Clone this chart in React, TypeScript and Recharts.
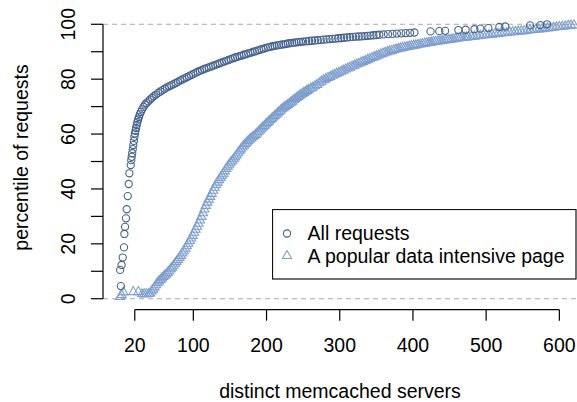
import { ScatterChart, Scatter, XAxis, YAxis, ReferenceLine, Legend, Label } from 'recharts';

// "All requests": percentile vs distinct servers
const allX = [
  0, 1, 2, 3.5, 5.3, 5.8, 6.7, 8, 9, 10.4, 11.7, 12.6, 14.5, 15.2, 15.8, 16.5, 17.2, 18, 18.8, 19.5,
  20.2, 21, 21.8, 22.7, 23.6, 24.6, 25.7, 27, 28.5, 30, 32, 34, 36, 38.5, 41, 43.5, 46, 49, 52, 55,
  58, 61, 64, 67, 70, 73, 76, 79, 82, 85, 88, 91, 94, 97, 100, 103, 106, 109, 112, 115,
  118, 121, 124, 127, 130, 133, 136, 139, 142, 145, 148, 151, 154, 157, 160, 163, 166, 169, 172, 175,
  178, 181, 184, 187, 190, 193, 196, 199, 202, 205, 208, 211, 214, 217, 220, 223, 226, 229, 232, 235,
  238, 241, 244, 247, 250, 254, 258, 262, 266, 270, 274, 278, 282, 286, 290, 294, 298, 302, 306, 310,
  314, 318, 322, 326, 330, 334, 338, 342, 346, 350, 354, 360, 366, 372, 378, 384, 390, 396, 402, 424,
  436, 444, 462, 472, 484, 492, 503, 518, 526, 560, 574, 583,
];
const allY = [
  10.5, 4.6, 12.3, 15, 18.7, 23.6, 26.2, 29.3, 32.6, 37.4, 41.8, 45.7, 48.7, 50.5, 51.7, 53, 54.5, 56, 57.5, 59,
  60.2, 61.2, 62.2, 63.3, 64.3, 65.3, 66.2, 67.2, 68.1, 69, 69.9, 70.7, 71.3, 71.9, 72.6, 73.2, 73.8, 74.4, 75, 75.5,
  76, 76.5, 77, 77.4, 77.8, 78.2, 78.6, 79, 79.5, 79.9, 80.3, 80.7, 81.1, 81.5, 81.9, 82.3, 82.7, 83, 83.4, 83.7,
  84, 84.3, 84.6, 84.9, 85.2, 85.5, 85.8, 86.1, 86.4, 86.7, 87, 87.3, 87.6, 87.9, 88.1, 88.4, 88.6, 88.9, 89.1, 89.4,
  89.6, 89.9, 90.1, 90.4, 90.6, 90.9, 91.1, 91.4, 91.6, 91.8, 92, 92.1, 92.3, 92.4, 92.6, 92.7, 92.8, 93, 93.1, 93.2,
  93.3, 93.4, 93.5, 93.6, 93.7, 93.8, 93.9, 94, 94.1, 94.2, 94.3, 94.4, 94.5, 94.6, 94.7, 94.8, 94.9, 95, 95.1, 95.2,
  95.3, 95.4, 95.5, 95.55, 95.6, 95.7, 95.8, 95.9, 96, 96.1, 96.2, 96.3, 96.4, 96.5, 96.6, 96.7, 96.8, 96.9, 97, 97.4,
  97.5, 97.6, 97.9, 98, 98.2, 98.4, 98.6, 99, 99.2, 99.6, 99.7, 100,
];

// "A popular data intensive page":
const pageX = [
  0, 2, 4.4, 18, 25, 30, 33, 36, 39, 41, 43, 45, 47, 49, 51, 53, 55, 57, 59, 61,
  63, 65, 67, 69, 71, 73, 75, 77, 79, 81, 83, 85, 87, 89, 91, 93, 95, 97, 99, 101,
  103, 105, 107, 109, 111, 113, 115, 117, 119, 121, 123, 125, 127, 129, 131, 133, 135, 137, 139, 141,
  143, 145, 147, 149, 151, 153, 155, 157, 159, 161, 163, 165, 167, 169, 171, 173, 175, 177, 179, 181,
  183, 185, 187, 189, 191, 193, 195, 197, 199, 201, 203, 205, 207, 209, 211, 213, 215, 217, 219, 221,
  223, 225, 227, 229, 231, 233, 235, 237, 239, 241, 243, 245, 247, 249, 251, 253, 255, 257, 260, 263,
  266, 269, 272, 275, 278, 281, 284, 287, 290, 293, 296, 299, 302, 305, 308, 311, 314, 317, 320, 323,
  326, 329, 332, 335, 338, 341, 344, 347, 350, 353, 356, 359, 362, 365, 368, 371, 374, 377, 380, 383,
  386, 389, 392, 395, 398, 401, 404, 407, 410, 413, 416, 419, 422, 425, 428, 431, 434, 437, 440, 443,
  446, 449, 452, 455, 458, 461, 464, 467, 470, 473, 476, 480, 484, 488, 492, 496, 500, 504, 508, 512,
  516, 520, 524, 528, 532, 536, 540, 544, 548, 552, 556, 560, 564, 568, 572, 576, 580, 584, 588, 592,
  596, 600, 604, 608, 612, 616, 620,
];
const pageY = [
  0.8, 1.5, 2.5, 2.6, 2.6, 1.8, 1.8, 1.8, 1.9, 2.1, 2.8, 3.5, 4.3, 5.1, 5.9, 6.5, 7, 7.6, 8.1, 8.6,
  9, 9.6, 10.2, 10.9, 11.5, 12.2, 12.9, 13.6, 14.3, 15, 15.8, 16.7, 17.5, 18.4, 19.3, 20.2, 21.2, 22.1, 23.1, 24.2,
  25.3, 26.4, 27.5, 28.7, 30, 31.3, 32.7, 34, 35.2, 36.3, 37.3, 38.4, 39.5, 40.6, 41.6, 42.5, 43.4, 44.2, 45, 45.7,
  46.6, 47.5, 48.3, 49, 49.7, 50.3, 51, 51.7, 52.4, 53.2, 53.9, 54.6, 55.3, 55.9, 56.5, 57, 57.6, 58.1, 58.6, 59,
  59.4, 59.9, 60.4, 61, 61.5, 62.1, 62.6, 63.1, 63.7, 64.2, 64.7, 65.2, 65.7, 66.2, 66.7, 67.2, 67.7, 68.2, 68.7, 69.2,
  69.6, 70, 70.4, 70.8, 71.2, 71.6, 72, 72.5, 72.9, 73.3, 73.7, 74.1, 74.5, 74.8, 75.2, 75.5, 75.9, 76.2, 76.7, 77.1,
  77.6, 78.1, 78.7, 79.3, 79.8, 80.2, 80.6, 81, 81.4, 81.8, 82.2, 82.5, 82.9, 83.3, 83.7, 84.1, 84.4, 84.8, 85.1, 85.5,
  85.8, 86.2, 86.5, 86.8, 87.2, 87.5, 87.9, 88.2, 88.5, 88.8, 89.2, 89.5, 89.8, 90, 90.3, 90.5, 90.8, 91, 91.2, 91.4,
  91.6, 91.7, 91.9, 92.1, 92.2, 92.4, 92.5, 92.7, 92.8, 93, 93.1, 93.3, 93.4, 93.5, 93.7, 93.8, 93.9, 94, 94.1, 94.3,
  94.4, 94.5, 94.6, 94.7, 94.8, 95, 95.1, 95.2, 95.3, 95.4, 95.5, 95.6, 95.7, 95.8, 96, 96.1, 96.2, 96.3, 96.4, 96.6,
  96.7, 96.8, 96.9, 97, 97.2, 97.3, 97.4, 97.5, 97.6, 97.7, 97.8, 98, 98.1, 98.2, 98.3, 98.4, 98.6, 98.7, 98.8, 98.9,
  99.1, 99.2, 99.3, 99.4, 99.6, 99.7, 99.8,
];

const xTicks = [20, 100, 200, 300, 400, 500, 600];
const yTicks = [0, 10, 20, 30, 40, 50, 60, 70, 80, 90, 100];
const seriesNames = ['All requests', 'A popular data intensive page'];

const FONT = '"Liberation Sans", Arial, Helvetica, sans-serif';
const DARK = '#46628d';
const LIGHT = '#7f9fcd';

const allData = allX.map((x, i) => ({ x, y: allY[i] }));
const pageData = pageX.map((x, i) => ({ x, y: pageY[i] }));

function CircleMark(props: any) {
  return <circle cx={props.cx} cy={props.cy} r={3.6} fill="none" stroke={DARK} strokeWidth={1.1} />;
}

function TriangleMark(props: any) {
  const { cx, cy } = props;
  return (
    <polygon
      points={`${cx},${cy - 5} ${cx - 4.6},${cy + 3} ${cx + 4.6},${cy + 3}`}
      fill="none"
      stroke={LIGHT}
      strokeWidth={1.1}
    />
  );
}

function YTick(props: any) {
  const { x, y, payload } = props;
  if (payload.value % 20 !== 0) return <g />;
  return (
    <text x={x} y={y} transform={`rotate(-90 ${x} ${y})`} textAnchor="middle" fontSize={19.5} fontFamily={FONT} fill="#000">
      {payload.value}
    </text>
  );
}

function LegendBox() {
  return (
    <svg width={305} height={71} style={{ display: 'block' }}>
      <rect x={0.5} y={0.5} width={303.5} height={69.5} fill="#fff" stroke="#111" strokeWidth={1.2} />
      <circle cx={15} cy={24.5} r={3.6} fill="none" stroke={DARK} strokeWidth={1.1} />
      <polygon points="15,41.5 10.4,49.5 19.6,49.5" fill="none" stroke={LIGHT} strokeWidth={1.1} />
      <text x={35.6} y={31} fontSize={19.5} fontFamily={FONT} fill="#000">{seriesNames[0]}</text>
      <text x={35.6} y={54} fontSize={19.5} fontFamily={FONT} fill="#000">{seriesNames[1]}</text>
    </svg>
  );
}

export default function App() {
  return (
    <div style={{ position: 'absolute', left: 0, top: 0, width: 577, height: 402, background: '#fff' }}>
      <ScatterChart width={577} height={402} margin={{ top: 13.3, right: 0, left: 43, bottom: 32.3 }}>
        <XAxis
          type="number"
          dataKey="x"
          domain={[-23.4, 624.1]}
          allowDataOverflow
          ticks={xTicks}
          interval={0}
          height={60}
          axisLine={false}
          tickSize={11}
          tickMargin={17.7}
          tickLine={{ stroke: '#000', strokeWidth: 1.2 }}
          tick={{ fill: '#000', fontSize: 19.5, fontFamily: FONT }}
        >
          <Label value="distinct memcached servers" position="bottom" offset={14} fill="#000" fontSize={19.5} fontFamily={FONT} />
        </XAxis>
        <YAxis
          type="number"
          dataKey="y"
          domain={[-4, 104]}
          allowDataOverflow
          ticks={yTicks}
          interval={0}
          width={60}
          axisLine={false}
          tickSize={12}
          tickMargin={16}
          tickLine={{ stroke: '#000', strokeWidth: 1.2 }}
          tick={<YTick />}
        >
          <Label
            content={() => (
              <text x={27.7} y={157.5} transform="rotate(-90 27.7 157.5)" textAnchor="middle" fontSize={19.5} fontFamily={FONT} fill="#000">
                percentile of requests
              </text>
            )}
          />
        </YAxis>
        <ReferenceLine y={0} stroke="#aaa" strokeDasharray="5 4" />
        <ReferenceLine y={100} stroke="#aaa" strokeDasharray="5 4" />
        <ReferenceLine segment={[{ x: 20, y: -4 }, { x: 600, y: -4 }]} stroke="#000" strokeWidth={1.2} ifOverflow="visible" />
        <ReferenceLine segment={[{ x: -23.4, y: 0 }, { x: -23.4, y: 100 }]} stroke="#000" strokeWidth={1.2} ifOverflow="visible" />
        <Scatter name={seriesNames[1]} data={pageData} shape={<TriangleMark />} isAnimationActive={false} />
        <Scatter name={seriesNames[0]} data={allData} shape={<CircleMark />} isAnimationActive={false} />
        <Legend
          layout="horizontal"
          verticalAlign="middle"
          align="center"
          content={() => <LegendBox />}
          wrapperStyle={{ left: 271.7, top: 209, width: 305, height: 71 }}
        />
      </ScatterChart>
    </div>
  );
}
